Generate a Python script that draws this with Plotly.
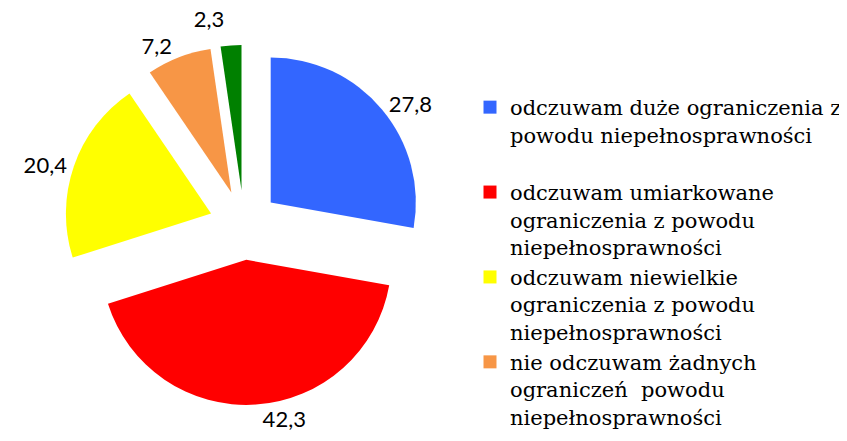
import plotly.graph_objects as go

categories = [
    "odczuwam duże ograniczenia z<br>powodu niepełnosprawności<br> ",
    "odczuwam umiarkowane<br>ograniczenia z powodu<br>niepełnosprawności",
    "odczuwam niewielkie<br>ograniczenia z powodu<br>niepełnosprawności",
    "nie odczuwam żadnych<br>ograniczeń  powodu<br>niepełnosprawności",
    "inne",
]
values = [27.8, 42.3, 20.4, 7.2, 2.3]
colors = ["#3366FF", "#FF0000", "#FFFF00", "#F79646", "#008000"]
legend_shown = 4

labels_text = [f"{v:.1f}".replace(".", ",") for v in values]

fig = go.Figure()
fig.add_trace(go.Pie(
    labels=categories,
    values=values,
    text=labels_text,
    textinfo="text",
    textposition="outside",
    sort=False,
    direction="clockwise",
    rotation=0,
    pull=[0.24] * len(values),
    marker=dict(colors=colors, line=dict(width=0)),
    textfont=dict(family="Lato", size=22, color="#000000"),
    outsidetextfont=dict(size=[]),
    showlegend=False,
    domain=dict(x=[56 / 847, 416 / 847], y=[1 - 397 / 441, 1 - 37 / 441]),
    hoverinfo="skip",
))

for name, col in zip(categories[:legend_shown], colors[:legend_shown]):
    fig.add_trace(go.Scatter(
        x=[None], y=[None], mode="markers", name=name,
        marker=dict(symbol="square", size=13, color=col, line=dict(width=0)),
        showlegend=True, hoverinfo="skip",
    ))

fig.update_layout(
    width=847, height=441,
    margin=dict(l=0, r=0, t=0, b=0, autoexpand=False),
    paper_bgcolor="white", plot_bgcolor="white",
    xaxis=dict(visible=False), yaxis=dict(visible=False),
    legend=dict(
        x=462 / 847, y=1 - 79 / 441, xanchor="left", yanchor="top",
        font=dict(family="DejaVu Serif", size=21, color="#000000"),
        bgcolor="rgba(0,0,0,0)", tracegroupgap=0, valign="top",
        maxheight=600,
    ),
)

fig.write_html("out.html")
